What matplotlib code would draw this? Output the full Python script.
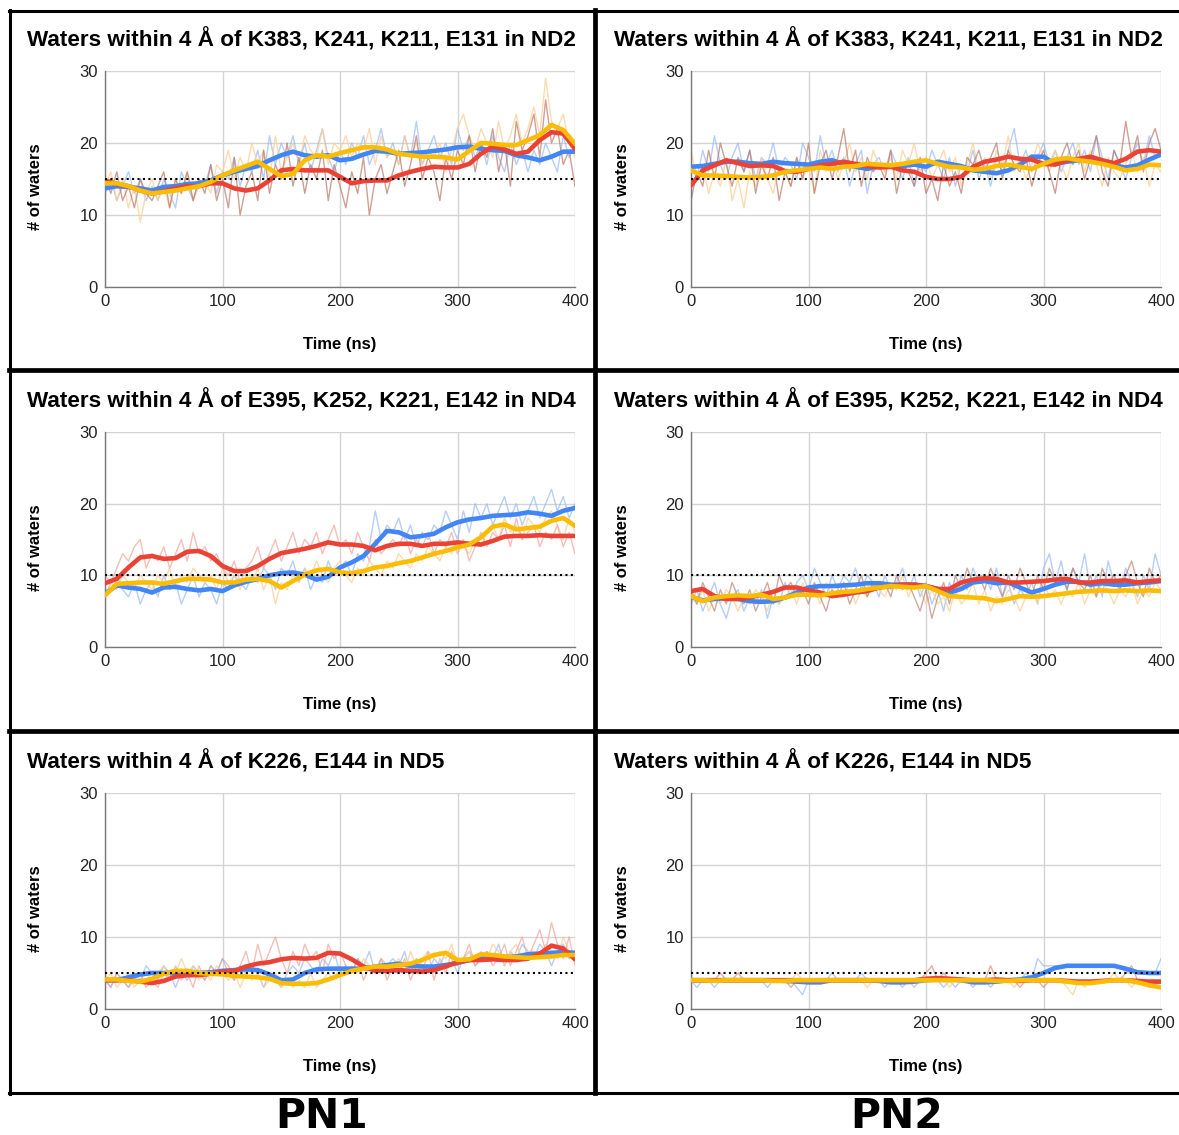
import numpy as np
import matplotlib.pyplot as plt
from matplotlib.lines import Line2D

# ---- data ----
time_smooth = list(range(0, 401, 10))
time_raw = list(range(0, 401, 5))

titles = [
    "Waters within 4 Å of K383, K241, K211, E131 in ND2",
    "Waters within 4 Å of E395, K252, K221, E142 in ND4",
    "Waters within 4 Å of K226, E144 in ND5",
]
column_labels = ["PN1", "PN2"]
reference_levels = [15, 10, 5]
x_ticks = [0, 100, 200, 300, 400]
y_ticks = [0, 10, 20, 30]

# PN1 / ND2
pn1_nd2_blue = [13.7, 14.0, 13.9, 13.7, 13.4, 13.9, 14.0, 14.3, 14.4, 14.8,
                15.5, 16.0, 16.4, 16.8, 17.6, 18.3, 18.8, 18.3, 18.1, 18.3,
                17.6, 17.8, 18.4, 18.9, 18.8, 18.5, 18.6, 18.7, 18.9, 19.1,
                19.4, 19.5, 19.2, 19.0, 18.9, 18.3, 18.0, 17.6, 18.1, 18.8, 18.8]
pn1_nd2_red = [14.8, 14.3, 14.0, 13.4, 13.0, 13.3, 13.7, 14.0, 14.0, 14.4,
               14.4, 13.7, 13.4, 13.7, 14.8, 16.2, 16.4, 16.2, 16.2, 16.2,
               15.3, 14.4, 14.7, 14.8, 14.8, 15.5, 16.0, 16.4, 16.7, 16.6,
               16.6, 17.1, 18.5, 19.5, 19.1, 18.5, 18.8, 20.4, 21.5, 21.3, 19.2]
pn1_nd2_yellow = [14.4, 14.4, 14.0, 13.4, 13.0, 13.2, 13.4, 13.7, 14.0, 14.6,
                  15.5, 16.2, 16.8, 17.4, 16.4, 15.4, 15.7, 17.6, 18.3, 18.1,
                  18.6, 19.0, 19.4, 19.4, 19.1, 18.5, 18.3, 18.1, 18.1, 18.0,
                  17.7, 18.9, 20.0, 19.9, 19.7, 19.7, 20.4, 21.1, 22.5, 21.8, 19.9]
pn1_nd2_blue_raw = [13, 15, 12, 14, 16, 13, 15, 12, 14,
                    12, 15, 13, 11, 16, 14, 12, 15,
                    14, 17, 13, 16, 15, 18, 14, 17,
                    16, 19, 15, 21, 17, 20, 18, 21,
                    17, 20, 16, 19, 22, 18, 16, 19,
                    17, 20, 18, 21, 17, 19, 22, 18,
                    20, 17, 21, 18, 23, 17, 19, 21,
                    18, 20, 17, 22, 19, 21, 18, 20,
                    17, 21, 18, 16, 20, 17, 19, 16,
                    19, 17, 20, 18, 16, 21, 18, 20]
pn1_nd2_red_raw = [15, 13, 16, 12, 14, 11, 15, 13, 12,
                   14, 16, 11, 15, 13, 16, 12, 15,
                   13, 17, 12, 15, 11, 18, 10, 14,
                   16, 12, 19, 13, 17, 15, 20, 14,
                   18, 13, 17, 15, 19, 12, 17, 14,
                   11, 16, 13, 18, 10, 15, 17, 13,
                   16, 19, 14, 17, 21, 15, 18, 16,
                   12, 18, 15, 19, 17, 21, 16, 20,
                   18, 22, 16, 20, 14, 23, 19, 21,
                   24, 18, 26, 20, 22, 17, 19, 14]
pn1_nd2_yellow_raw = [14, 16, 12, 15, 11, 14, 9, 13, 15,
                      12, 14, 11, 15, 13, 16, 12, 14,
                      15, 13, 17, 16, 19, 15, 18, 16,
                      20, 17, 19, 15, 21, 16, 18, 20,
                      17, 21, 19, 18, 22, 17, 20, 19,
                      21, 18, 20, 19, 22, 17, 21, 18,
                      19, 17, 21, 18, 20, 17, 19, 18,
                      20, 16, 19, 22, 24, 21, 19, 22,
                      20, 18, 23, 19, 21, 24, 20, 22,
                      25, 21, 29, 23, 22, 24, 20, 18]

# PN2 / ND2
pn2_nd2_blue = [16.7, 16.8, 17.1, 17.4, 17.4, 17.2, 17.1, 17.4, 17.2, 17.1,
                17.0, 17.4, 17.6, 17.1, 16.7, 16.4, 16.8, 16.9, 16.8, 17.0,
                16.7, 17.4, 17.1, 16.8, 16.2, 16.0, 15.8, 16.2, 17.0, 18.1,
                18.1, 17.1, 17.4, 17.6, 17.6, 17.4, 16.9, 16.6, 16.9, 17.7, 18.4]
pn2_nd2_red = [14.1, 16.2, 16.9, 17.6, 17.2, 16.8, 16.9, 16.8, 16.1, 16.0,
               16.4, 16.9, 17.1, 17.4, 17.1, 16.8, 16.6, 16.7, 16.2, 16.0,
               15.3, 15.0, 15.0, 15.3, 16.7, 17.4, 17.7, 18.1, 17.8, 17.7,
               17.1, 17.0, 17.6, 17.8, 18.1, 17.6, 17.2, 17.8, 18.8, 19.0, 18.8]
pn2_nd2_yellow = [16.2, 15.5, 15.5, 15.4, 15.3, 15.2, 15.3, 15.5, 16.0, 16.2,
                  16.4, 16.6, 16.4, 16.7, 16.8, 17.1, 17.0, 16.9, 17.1, 17.4,
                  17.6, 17.1, 16.7, 16.6, 16.3, 16.4, 16.8, 17.0, 16.7, 16.4,
                  17.1, 17.7, 17.9, 17.6, 17.4, 17.1, 16.7, 16.2, 16.4, 17.0, 16.9]
pn2_nd2_blue_raw = [17, 15, 19, 16, 21, 17, 15, 18, 20,
                    16, 19, 15, 18, 17, 20, 16, 18,
                    17, 15, 20, 18, 16, 21, 17, 19,
                    16, 18, 14, 17, 19, 13, 17, 18,
                    16, 19, 17, 15, 18, 14, 17, 16,
                    19, 17, 15, 18, 14, 17, 16, 19,
                    15, 17, 14, 18, 16, 19, 22, 17,
                    19, 16, 18, 20, 17, 19, 16, 18,
                    20, 17, 19, 16, 21, 18, 15, 19,
                    17, 15, 18, 20, 17, 21, 18, 19]
pn2_nd2_red_raw = [12, 16, 14, 19, 15, 20, 17, 14, 18,
                   16, 19, 13, 17, 15, 18, 12, 16,
                   14, 18, 15, 20, 13, 17, 19, 15,
                   18, 22, 16, 19, 14, 18, 16, 17,
                   15, 19, 13, 17, 16, 14, 18, 13,
                   15, 12, 17, 14, 16, 13, 18, 17,
                   19, 16, 18, 20, 15, 19, 17, 16,
                   18, 14, 17, 19, 16, 13, 18, 20,
                   17, 19, 15, 18, 21, 16, 14, 19,
                   17, 23, 18, 21, 16, 20, 22, 19]
pn2_nd2_yellow_raw = [19, 15, 17, 13, 16, 14, 18, 12, 15,
                      11, 16, 14, 18, 15, 13, 17, 16,
                      14, 18, 15, 17, 13, 19, 16, 18,
                      15, 17, 20, 16, 18, 15, 19, 17,
                      16, 18, 15, 19, 17, 20, 16, 18,
                      15, 17, 19, 16, 18, 14, 17, 20,
                      16, 18, 15, 19, 17, 21, 16, 18,
                      15, 17, 20, 18, 16, 19, 17, 15,
                      18, 20, 16, 19, 17, 14, 18, 16,
                      15, 17, 19, 16, 18, 14, 17, 16]

# PN1 / ND4
pn1_nd4_blue = [7.4, 8.6, 8.3, 8.1, 7.6, 8.3, 8.4, 8.1, 7.9, 8.1,
                7.8, 8.6, 9.1, 9.5, 10.0, 10.3, 10.4, 10.1, 9.4, 9.8,
                11.1, 11.8, 12.7, 14.4, 16.2, 16.0, 15.3, 15.5, 15.8, 16.7,
                17.4, 17.8, 18.0, 18.3, 18.4, 18.5, 18.8, 18.6, 18.3, 19.0, 19.4]
pn1_nd4_red = [8.9, 9.5, 11.1, 12.5, 12.7, 12.3, 12.4, 13.3, 13.4, 12.7,
               11.3, 10.6, 10.6, 11.3, 12.3, 13.1, 13.4, 13.7, 14.1, 14.6,
               14.3, 14.3, 14.1, 13.5, 14.1, 14.4, 14.4, 14.1, 14.4, 14.4,
               14.6, 14.4, 14.3, 14.8, 15.4, 15.5, 15.5, 15.6, 15.5, 15.5, 15.5]
pn1_nd4_yellow = [7.2, 8.8, 8.9, 9.0, 9.0, 8.8, 9.2, 9.5, 9.5, 9.4,
                  9.0, 9.0, 9.4, 9.5, 9.2, 8.3, 9.2, 10.1, 10.7, 10.9,
                  10.4, 10.3, 10.6, 11.1, 11.3, 11.7, 12.0, 12.5, 13.0, 13.4,
                  13.9, 14.3, 15.3, 16.8, 17.1, 16.4, 16.6, 16.8, 17.6, 18.0, 16.9]
pn1_nd4_blue_raw = [7, 9, 10, 8, 7, 9, 6, 8, 9,
                    7, 10, 8, 9, 6, 8, 10, 7,
                    9, 8, 6, 9, 8, 10, 9, 8,
                    10, 9, 11, 10, 8, 11, 10, 12,
                    9, 11, 8, 10, 9, 12, 10, 11,
                    12, 10, 13, 12, 14, 19, 15, 17,
                    16, 18, 15, 17, 14, 16, 15, 17,
                    16, 19, 17, 15, 19, 16, 20, 18,
                    20, 17, 19, 21, 18, 20, 17, 19,
                    21, 18, 20, 22, 19, 21, 18, 20]
pn1_nd4_red_raw = [10, 9, 11, 13, 12, 14, 15, 11, 13,
                   12, 14, 11, 13, 15, 12, 16, 13,
                   14, 12, 13, 11, 10, 12, 9, 11,
                   12, 14, 11, 13, 15, 12, 14, 16,
                   13, 15, 14, 16, 13, 15, 17, 14,
                   15, 13, 16, 14, 12, 15, 13, 14,
                   15, 14, 16, 13, 15, 14, 16, 13,
                   15, 14, 16, 13, 15, 12, 14, 16,
                   14, 16, 15, 17, 14, 18, 15, 16,
                   17, 14, 16, 15, 17, 14, 16, 13]
pn1_nd4_yellow_raw = [7, 9, 8, 10, 9, 8, 10, 9, 8,
                      10, 9, 11, 8, 10, 9, 11, 10,
                      9, 10, 8, 11, 9, 10, 8, 10,
                      9, 11, 8, 10, 6, 9, 8, 10,
                      9, 11, 10, 12, 10, 9, 11, 12,
                      10, 9, 11, 10, 12, 11, 10, 12,
                      11, 13, 12, 11, 13, 12, 14, 13,
                      12, 14, 13, 15, 14, 13, 15, 14,
                      16, 17, 15, 18, 16, 17, 15, 18,
                      17, 16, 18, 19, 17, 15, 18, 16]

# PN2 / ND4
pn2_nd4_blue = [7.0, 6.5, 6.7, 6.8, 6.7, 6.4, 6.3, 6.4, 6.9, 7.6,
                8.3, 8.5, 8.5, 8.6, 8.7, 8.9, 8.9, 8.7, 8.7, 8.7,
                8.5, 8.1, 7.6, 8.1, 9.0, 9.2, 8.9, 9.0, 8.3, 7.6,
                8.1, 8.7, 9.1, 9.1, 8.7, 8.9, 8.7, 8.7, 8.9, 9.0, 9.2]
pn2_nd4_red = [7.8, 8.1, 7.1, 6.7, 6.7, 6.9, 7.3, 7.7, 8.3, 8.3,
               7.9, 7.6, 7.1, 7.3, 7.6, 7.8, 8.3, 8.5, 8.7, 8.7,
               8.5, 8.1, 8.1, 9.0, 9.4, 9.6, 9.5, 9.0, 9.0, 9.1,
               9.2, 9.4, 9.5, 9.0, 9.0, 9.2, 9.2, 9.3, 9.0, 9.2, 9.3]
pn2_nd4_yellow = [7.1, 6.4, 6.9, 7.1, 7.2, 7.1, 7.3, 6.7, 6.9, 7.3,
                  7.3, 7.2, 7.5, 7.7, 7.8, 8.1, 8.3, 8.5, 8.4, 8.3,
                  8.5, 7.8, 7.1, 7.0, 6.9, 6.8, 6.4, 6.7, 7.1, 7.0,
                  7.1, 7.3, 7.5, 7.7, 7.8, 7.9, 7.8, 7.9, 7.8, 7.9, 7.8]
pn2_nd4_blue_raw = [6, 8, 5, 7, 9, 6, 4, 7, 8,
                    5, 7, 6, 8, 4, 7, 6, 9,
                    7, 9, 10, 8, 11, 9, 7, 10,
                    8, 10, 9, 11, 8, 10, 9, 7,
                    10, 8, 9, 11, 8, 10, 7, 9,
                    6, 8, 5, 9, 7, 10, 8, 11,
                    9, 10, 8, 11, 7, 9, 6, 8,
                    7, 9, 6, 11, 13, 9, 12, 8,
                    11, 9, 13, 8, 10, 7, 12, 9,
                    8, 11, 9, 7, 10, 8, 13, 10]
pn2_nd4_red_raw = [8, 6, 9, 7, 5, 8, 6, 9, 7,
                   6, 8, 5, 7, 9, 6, 10, 8,
                   9, 7, 8, 6, 9, 7, 5, 8,
                   7, 9, 6, 8, 10, 7, 9, 8,
                   9, 7, 10, 8, 9, 7, 5, 8,
                   4, 7, 9, 6, 10, 8, 11, 9,
                   10, 8, 11, 9, 7, 10, 8, 11,
                   9, 7, 10, 8, 11, 9, 10, 8,
                   11, 9, 8, 10, 7, 11, 9, 10,
                   8, 10, 12, 9, 7, 11, 9, 10]
pn2_nd4_yellow_raw = [7, 6, 8, 5, 7, 6, 8, 7, 5,
                      7, 6, 8, 7, 5, 8, 6, 7,
                      8, 6, 9, 7, 8, 6, 9, 7,
                      8, 7, 9, 6, 8, 7, 9, 8,
                      7, 9, 8, 10, 7, 9, 8, 6,
                      8, 6, 7, 5, 8, 6, 7, 9,
                      6, 8, 5, 7, 6, 8, 7, 5,
                      7, 8, 6, 9, 7, 8, 6, 8,
                      7, 9, 6, 8, 7, 9, 8, 6,
                      8, 7, 9, 6, 8, 7, 9, 8]

# PN1 / ND5
pn1_nd5_blue = [4.0, 4.0, 4.4, 4.8, 5.0, 5.0, 5.0, 5.0, 5.0, 5.1,
                5.3, 5.4, 5.5, 5.4, 4.8, 4.0, 4.1, 5.0, 5.5, 5.6,
                5.6, 5.6, 5.6, 5.9, 6.1, 6.3, 6.0, 5.9, 5.9, 6.1,
                6.4, 6.8, 7.0, 7.1, 7.2, 7.3, 7.6, 7.7, 7.8, 7.9, 7.8]
pn1_nd5_red = [4.0, 4.0, 4.0, 3.8, 3.6, 3.9, 4.5, 4.7, 4.7, 4.9,
               5.2, 5.3, 5.9, 6.3, 6.5, 6.9, 7.1, 7.0, 7.1, 7.8,
               7.7, 6.9, 5.9, 5.3, 5.3, 5.4, 5.3, 5.2, 5.4, 5.9,
               6.5, 6.8, 6.8, 6.9, 6.8, 6.8, 7.0, 7.7, 8.8, 8.4, 6.9]
pn1_nd5_yellow = [4.1, 4.1, 3.9, 3.8, 4.2, 4.9, 5.3, 5.3, 5.0, 4.9,
                  4.8, 4.6, 4.5, 4.4, 4.2, 3.6, 3.5, 3.5, 3.6, 4.1,
                  4.7, 5.3, 5.6, 5.9, 5.9, 6.1, 6.3, 6.8, 7.5, 7.8,
                  6.8, 6.9, 7.6, 7.5, 7.3, 7.2, 7.1, 7.2, 7.3, 7.5, 7.5]
pn1_nd5_blue_raw = [4, 3, 5, 4, 3, 5, 4, 6, 5,
                    4, 6, 5, 3, 5, 4, 6, 5,
                    4, 6, 5, 7, 5, 4, 6, 5,
                    6, 5, 3, 5, 4, 3, 5, 6,
                    5, 7, 6, 5, 7, 6, 8, 5,
                    6, 5, 7, 6, 8, 5, 7, 6,
                    7, 6, 8, 5, 7, 6, 5, 7,
                    6, 8, 7, 5, 7, 8, 6, 7,
                    8, 7, 9, 6, 8, 7, 9, 8,
                    7, 9, 8, 6, 8, 9, 7, 8]
pn1_nd5_red_raw = [4, 3, 5, 4, 3, 4, 5, 3, 4,
                   3, 5, 4, 6, 4, 5, 3, 6,
                   4, 6, 5, 7, 6, 4, 6, 8,
                   5, 9, 6, 8, 10, 7, 5, 8,
                   6, 9, 7, 8, 5, 9, 7, 8,
                   6, 5, 7, 4, 6, 5, 7, 4,
                   6, 5, 7, 4, 6, 5, 8, 4,
                   7, 5, 8, 6, 7, 9, 6, 7,
                   8, 6, 7, 9, 6, 8, 10, 7,
                   9, 11, 8, 12, 9, 7, 10, 6]
pn1_nd5_yellow_raw = [4, 5, 3, 4, 5, 3, 4, 5, 4,
                      5, 6, 4, 5, 7, 5, 6, 4,
                      5, 4, 6, 5, 4, 5, 3, 5,
                      4, 5, 3, 4, 5, 3, 4, 3,
                      4, 3, 5, 3, 4, 5, 4, 6,
                      5, 6, 5, 7, 6, 5, 7, 6,
                      6, 7, 5, 8, 6, 7, 8, 7,
                      8, 7, 9, 6, 7, 8, 7, 8,
                      7, 9, 8, 6, 8, 9, 7, 8,
                      8, 7, 9, 8, 7, 10, 8, 7]

# PN2 / ND5
pn2_nd5_blue = [4.0, 4.0, 4.0, 4.0, 4.0, 4.0, 4.0, 4.0, 3.9, 3.8,
                3.7, 3.7, 4.0, 4.0, 4.0, 4.0, 3.9, 3.7, 3.7, 3.8,
                4.0, 4.1, 4.1, 4.0, 3.7, 3.7, 3.8, 4.0, 4.1, 4.4,
                5.0, 5.7, 6.0, 6.0, 6.0, 6.0, 6.0, 5.6, 5.1, 5.0, 5.0]
pn2_nd5_red = [4.0, 4.0, 4.0, 4.0, 4.0, 4.0, 4.0, 4.0, 4.0, 4.0,
               4.0, 4.0, 4.0, 4.0, 4.0, 4.0, 4.0, 4.0, 4.0, 4.0,
               4.2, 4.3, 4.2, 4.1, 4.0, 4.0, 4.1, 4.0, 3.9, 4.0,
               4.0, 4.0, 3.9, 3.8, 3.8, 3.9, 4.0, 4.0, 3.9, 3.8, 3.8]
pn2_nd5_yellow = [4.0, 4.0, 3.9, 4.0, 4.0, 4.0, 4.0, 3.9, 3.9, 4.0,
                  4.0, 4.0, 4.0, 4.0, 4.0, 4.0, 4.0, 4.0, 4.0, 4.0,
                  4.0, 4.0, 4.0, 4.0, 4.0, 4.0, 3.9, 3.9, 4.0, 4.0,
                  4.0, 4.0, 3.8, 3.6, 3.6, 3.8, 4.0, 4.0, 3.7, 3.3, 3.0]
pn2_nd5_blue_raw = [4, 3, 4, 4, 3, 4, 4, 4, 4,
                    4, 4, 4, 4, 3, 4, 4, 4,
                    4, 3, 2, 4, 4, 4, 4, 5,
                    4, 4, 4, 4, 5, 4, 4, 4,
                    3, 4, 4, 3, 4, 3, 4, 4,
                    4, 4, 3, 4, 3, 4, 4, 3,
                    4, 4, 3, 4, 4, 4, 4, 4,
                    5, 4, 7, 6, 6, 6, 6, 6,
                    6, 6, 6, 6, 6, 6, 6, 6,
                    6, 5, 5, 5, 5, 5, 5, 7]
pn2_nd5_red_raw = [4, 4, 4, 4, 4, 5, 4, 4, 5,
                   4, 4, 4, 4, 4, 4, 4, 4,
                   3, 4, 4, 4, 4, 4, 4, 4,
                   4, 4, 4, 4, 4, 4, 4, 4,
                   4, 4, 4, 4, 4, 4, 4, 5,
                   6, 4, 5, 4, 4, 4, 4, 4,
                   4, 4, 6, 4, 4, 4, 4, 3,
                   4, 4, 4, 3, 4, 4, 4, 4,
                   4, 4, 4, 4, 4, 4, 4, 4,
                   4, 5, 6, 4, 4, 4, 4, 4]
pn2_nd5_yellow_raw = [4, 4, 4, 4, 4, 4, 4, 4, 4,
                      4, 4, 4, 4, 4, 4, 4, 4,
                      4, 5, 4, 4, 4, 4, 4, 4,
                      4, 4, 4, 4, 4, 3, 4, 4,
                      4, 4, 4, 4, 4, 4, 4, 4,
                      4, 4, 4, 3, 4, 4, 4, 4,
                      4, 4, 4, 4, 4, 4, 3, 4,
                      4, 4, 4, 4, 4, 4, 4, 3,
                      2, 4, 3, 4, 4, 4, 4, 5,
                      4, 4, 3, 4, 4, 3, 3, 3]

# ---- layout ----
W, H = 1179, 1135
FONT = "Liberation Sans"

def fx(px):
    return px / W

def fy(py):
    return 1 - py / H

col_x = [(105, 575), (691, 1161)]
row_y = [(71, 287), (432, 647), (793, 1009)]
title_x = [27, 614]
title_y = [40, 401, 762]
ylabel_x = [36, 622]
xlabel_y = [344, 705, 1067]

BLUE, RED, YELLOW = "#4285f4", "#ea4335", "#fbbc04"
raw_blue = "#8fb4f5"
raw_yellow = "#fbcf94"
raw_red = ["#b56d5c", "#b56d5c", "#ef9c94", "#b87a6c", "#ef9c94", "#d9826f"]

panels = [
    (0, 0, pn1_nd2_blue, pn1_nd2_red, pn1_nd2_yellow, pn1_nd2_blue_raw, pn1_nd2_red_raw, pn1_nd2_yellow_raw),
    (1, 0, pn2_nd2_blue, pn2_nd2_red, pn2_nd2_yellow, pn2_nd2_blue_raw, pn2_nd2_red_raw, pn2_nd2_yellow_raw),
    (0, 1, pn1_nd4_blue, pn1_nd4_red, pn1_nd4_yellow, pn1_nd4_blue_raw, pn1_nd4_red_raw, pn1_nd4_yellow_raw),
    (1, 1, pn2_nd4_blue, pn2_nd4_red, pn2_nd4_yellow, pn2_nd4_blue_raw, pn2_nd4_red_raw, pn2_nd4_yellow_raw),
    (0, 2, pn1_nd5_blue, pn1_nd5_red, pn1_nd5_yellow, pn1_nd5_blue_raw, pn1_nd5_red_raw, pn1_nd5_yellow_raw),
    (1, 2, pn2_nd5_blue, pn2_nd5_red, pn2_nd5_yellow, pn2_nd5_blue_raw, pn2_nd5_red_raw, pn2_nd5_yellow_raw),
]

fig = plt.figure(figsize=(W / 100, H / 100), dpi=100)

for i, (c, r, blue, red, yellow, blue_raw, red_raw, yellow_raw) in enumerate(panels):
    x0, x1 = col_x[c]
    y0, y1 = row_y[r]
    ax = fig.add_axes([fx(x0), fy(y1), (x1 - x0) / W, (y1 - y0) / H])

    ax.plot(time_raw, blue_raw, color=raw_blue, lw=1.0, alpha=0.65, zorder=2)
    ax.plot(time_raw, yellow_raw, color=raw_yellow, lw=1.0, alpha=0.75, zorder=2)
    ax.plot(time_raw, red_raw, color=raw_red[i], lw=1.0, alpha=0.65, zorder=2)

    ax.plot(time_smooth, blue, color=BLUE, lw=3.3, zorder=4, solid_capstyle="round")
    ax.plot(time_smooth, red, color=RED, lw=3.3, zorder=4, solid_capstyle="round")
    ax.plot(time_smooth, yellow, color=YELLOW, lw=3.3, zorder=4, solid_capstyle="round")

    ax.axhline(reference_levels[r], color="black", lw=1.5, ls=(0, (1, 1.6)), zorder=6)

    ax.set_xlim(0, 400)
    ax.set_ylim(0, 30)
    ax.set_xticks(x_ticks)
    ax.set_yticks(y_ticks)
    ax.grid(True, color="#d4d4d4", lw=1.0)
    ax.set_axisbelow(True)
    for s in ["top", "right"]:
        ax.spines[s].set_visible(False)
    for s in ["left", "bottom"]:
        ax.spines[s].set_color("#777777")
        ax.spines[s].set_linewidth(1.0)
    ax.tick_params(length=0, labelsize=12, labelcolor="#222222", pad=5)
    for lab in ax.get_xticklabels() + ax.get_yticklabels():
        lab.set_fontfamily(FONT)

    fig.text(fx(title_x[c]), fy(title_y[r]), titles[r], fontsize=16.2, fontweight="bold",
             family=FONT, ha="left", va="center")
    fig.text(fx((x0 + x1) / 2), fy(xlabel_y[r]), "Time (ns)", fontsize=12, fontweight="bold",
             family=FONT, ha="center", va="center")
    fig.text(fx(ylabel_x[c]), fy((y0 + y1) / 2 + 8), "# of waters", fontsize=12, fontweight="bold",
             family=FONT, ha="center", va="center", rotation=90)

# panel borders
def hline(y, x0, x1, lw):
    fig.add_artist(Line2D([fx(x0), fx(x1)], [fy(y), fy(y)], color="black", lw=lw,
                          transform=fig.transFigure))

def vline(x, y0, y1, lw):
    fig.add_artist(Line2D([fx(x), fx(x)], [fy(y0), fy(y1)], color="black", lw=lw,
                          transform=fig.transFigure))

hline(11, 9, 1179, 2.2)
hline(1093, 9, 1179, 2.2)
vline(10, 10, 1094, 2.2)
vline(594.5, 10, 1093, 3.4)
hline(370, 9, 1179, 3.4)
hline(731, 9, 1179, 3.4)

for c, label in enumerate(column_labels):
    fig.text(fx([322, 897][c]), fy(1117), label, fontsize=29.5, fontweight="bold",
             family="DejaVu Sans", ha="center", va="center")

fig.savefig("out.png", dpi=100)
